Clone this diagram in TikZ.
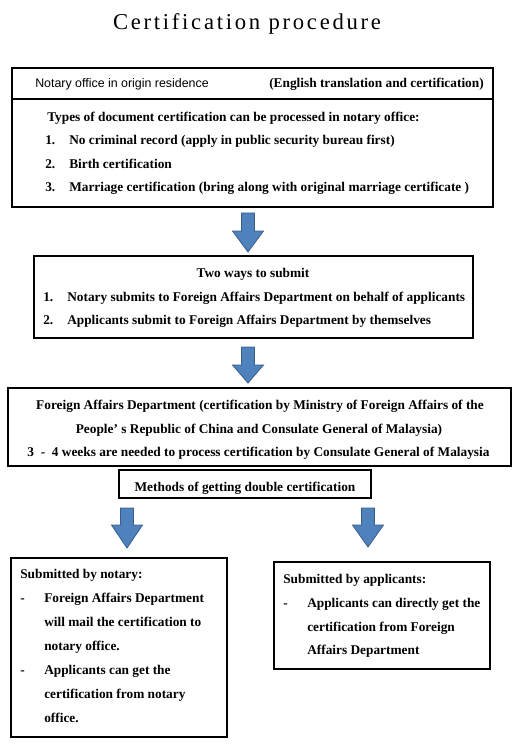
\documentclass[tikz,border=0pt]{standalone}
\usepackage{fontspec}
\setmainfont{Liberation Serif}
\newfontfamily\titlefont[LetterSpace=12]{Liberation Serif}
\newfontfamily\bodyfont{Liberation Serif}
\newfontfamily\headfont{Liberation Sans}

\definecolor{arrowfill}{RGB}{79,129,189}
\definecolor{arrowline}{RGB}{56,93,138}

\tikzset{
  txt/.style={anchor=base west,inner sep=0pt,font=\bodyfont\bfseries\fontsize{10}{12}\selectfont},
  ctxt/.style={txt,anchor=base},
  rtxt/.style={txt,anchor=base east},
  box/.style={draw,line width=0.8pt},
  blockarrow/.style={fill=arrowfill,draw=arrowline,line width=0.6pt}
}

% down arrow: x centre, top, start of head, tip
\newcommand{\downblock}[4]{%
  \draw[blockarrow] ({#1-6.5},#2) -- ({#1+6.5},#2) -- ({#1+6.5},#3)
    -- ({#1+15.5},#3) -- (#1,#4) -- ({#1-15.5},#3) -- ({#1-6.5},#3) -- cycle;}

\begin{document}
\begin{tikzpicture}[x=0.75pt,y=-0.75pt]

\useasboundingbox (0,0) rectangle (528,752);

\node[anchor=base,inner sep=0pt,font=\titlefont\fontsize{17}{20}\selectfont] (title) at (247,30) {Certification procedure};

%------------------------------------------------
% Notary office
%------------------------------------------------
\draw[box] (12,68) rectangle (493,207);
\draw[line width=1.5pt] (12,99.5) -- (493,99.5);

\node[anchor=base west,inner sep=0pt,font=\headfont\fontsize{9.3}{11}\selectfont] (office) at (35,88) {Notary office in origin residence};
\node[rtxt] (english) at (484,88) {(English translation and certification)};

\node[txt] (types) at (47,122) {Types of document certification can be processed in notary office:};
\node[txt] (n1) at (45,145) {1.};
\node[txt] (t1) at (69,145) {No criminal record (apply in public security bureau first)};
\node[txt] (n2) at (45,169) {2.};
\node[txt] (t2) at (69,169) {Birth certification};
\node[txt] (n3) at (45,192) {3.};
\node[txt] (t3) at (69,192) {Marriage certification (bring along with original marriage certificate )};

\downblock{248}{213}{231}{252}

%------------------------------------------------
% Two ways to submit
%------------------------------------------------
\draw[box] (34,256) rectangle (473,338);

\node[ctxt] (ways) at (253,277) {Two ways to submit};
\node[txt] (w1n) at (43,301) {1.};
\node[txt] (w1) at (67,301) {Notary submits to Foreign Affairs Department on behalf of applicants};
\node[txt] (w2n) at (43,324) {2.};
\node[txt] (w2) at (67,324) {Applicants submit to Foreign Affairs Department by themselves};

\downblock{248}{347}{365}{383}

%------------------------------------------------
% Foreign Affairs Department
%------------------------------------------------
\draw[box] (8,388) rectangle (511,466);

\node[ctxt] (fad1) at (260,409) {Foreign Affairs Department (certification by Ministry of Foreign Affairs of the};
\node[ctxt] (fad2) at (259,433) {People’ s Republic of China and Consulate General of Malaysia)};
\node[ctxt] (fad3) at (258.5,456) {3 \ - \ 4 weeks are needed to process certification by Consulate General of Malaysia};

\draw[box] (119,470) rectangle (371,498);
\node[ctxt] (methods) at (245,491) {Methods of getting double certification};

\downblock{127}{508}{525}{548}
\downblock{368}{508}{525}{547}

%------------------------------------------------
% Two ways of getting it back
%------------------------------------------------
\draw[box] (11,558) rectangle (227,737);

\node[txt] (bynotary) at (20,578) {Submitted by notary:};
\node[txt] (d1) at (20,602) {-};
\node[txt] (l1) at (44,602) {Foreign Affairs Department};
\node[txt] (l2) at (44,626) {will mail the certification to};
\node[txt] (l3) at (44,650) {notary office.};
\node[txt] (d2) at (20,674) {-};
\node[txt] (l4) at (44,674) {Applicants can get the};
\node[txt] (l5) at (44,698) {certification from notary};
\node[txt] (l6) at (44,722) {office.};

\draw[box] (274,562) rectangle (490,669);

\node[txt] (byapp) at (283,583) {Submitted by applicants:};
\node[txt] (d3) at (283,607) {-};
\node[txt] (r1) at (307,607) {Applicants can directly get the};
\node[txt] (r2) at (307,631) {certification from Foreign};
\node[txt] (r3) at (307,654) {Affairs Department};

\end{tikzpicture}
\end{document}
